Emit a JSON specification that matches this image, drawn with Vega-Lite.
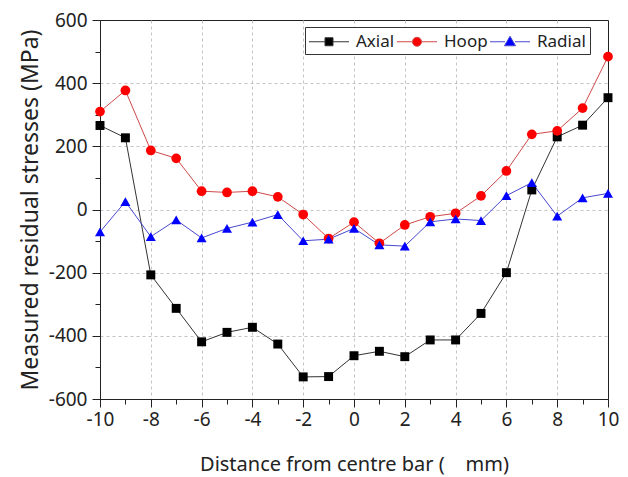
{
  "$schema": "https://vega.github.io/schema/vega-lite/v6.json",
  "width": 508,
  "height": 379,
  "autosize": {"type": "none"},
  "padding": {"left": 100, "top": 20, "right": 20, "bottom": 78},
  "background": "white",
  "config": {
    "view": {"stroke": "#222", "strokeWidth": 1},
    "font": "Noto Sans",
    "axis": {
      "labelFont": "Noto Sans", "titleFont": "Noto Sans",
      "labelColor": "#222", "titleColor": "#222",
      "domainColor": "#222", "tickColor": "#222",
      "titleFontWeight": "normal", "labelFlush": false
    },
    "legend": {
      "title": null, "orient": "none", "legendX": 205, "legendY": 7, "direction": "horizontal",
      "fillColor": "white", "strokeColor": "#333", "padding": 4, "columnPadding": 0,
      "labelFontSize": 17, "labelColor": "#222", "labelOffset": 26, "symbolSize": 400, "symbolStrokeWidth": 1
    }
  },
  "resolve": {"axis": {"x": "independent", "y": "independent"}},
  "data": {
    "values": [
      {"x": -10, "s": "Axial", "v": 266}, {"x": -9, "s": "Axial", "v": 227}, {"x": -8, "s": "Axial", "v": -207},
      {"x": -7, "s": "Axial", "v": -313}, {"x": -6, "s": "Axial", "v": -419}, {"x": -5, "s": "Axial", "v": -389},
      {"x": -4, "s": "Axial", "v": -373}, {"x": -3, "s": "Axial", "v": -426}, {"x": -2, "s": "Axial", "v": -530},
      {"x": -1, "s": "Axial", "v": -529}, {"x": 0, "s": "Axial", "v": -463}, {"x": 1, "s": "Axial", "v": -449},
      {"x": 2, "s": "Axial", "v": -466}, {"x": 3, "s": "Axial", "v": -413}, {"x": 4, "s": "Axial", "v": -413},
      {"x": 5, "s": "Axial", "v": -329}, {"x": 6, "s": "Axial", "v": -200}, {"x": 7, "s": "Axial", "v": 62},
      {"x": 8, "s": "Axial", "v": 230}, {"x": 9, "s": "Axial", "v": 267}, {"x": 10, "s": "Axial", "v": 354},
      {"x": -10, "s": "Hoop", "v": 310}, {"x": -9, "s": "Hoop", "v": 377}, {"x": -8, "s": "Hoop", "v": 187},
      {"x": -7, "s": "Hoop", "v": 162}, {"x": -6, "s": "Hoop", "v": 58}, {"x": -5, "s": "Hoop", "v": 54},
      {"x": -4, "s": "Hoop", "v": 58}, {"x": -3, "s": "Hoop", "v": 40}, {"x": -2, "s": "Hoop", "v": -16},
      {"x": -1, "s": "Hoop", "v": -92}, {"x": 0, "s": "Hoop", "v": -40}, {"x": 1, "s": "Hoop", "v": -107},
      {"x": 2, "s": "Hoop", "v": -49}, {"x": 3, "s": "Hoop", "v": -23}, {"x": 4, "s": "Hoop", "v": -12},
      {"x": 5, "s": "Hoop", "v": 43}, {"x": 6, "s": "Hoop", "v": 122}, {"x": 7, "s": "Hoop", "v": 238},
      {"x": 8, "s": "Hoop", "v": 249}, {"x": 9, "s": "Hoop", "v": 321}, {"x": 10, "s": "Hoop", "v": 484},
      {"x": -10, "s": "Radial", "v": -71}, {"x": -9, "s": "Radial", "v": 25}, {"x": -8, "s": "Radial", "v": -86},
      {"x": -7, "s": "Radial", "v": -33}, {"x": -6, "s": "Radial", "v": -90}, {"x": -5, "s": "Radial", "v": -60},
      {"x": -4, "s": "Radial", "v": -40}, {"x": -3, "s": "Radial", "v": -16}, {"x": -2, "s": "Radial", "v": -99},
      {"x": -1, "s": "Radial", "v": -94}, {"x": 0, "s": "Radial", "v": -60}, {"x": 1, "s": "Radial", "v": -112},
      {"x": 2, "s": "Radial", "v": -116}, {"x": 3, "s": "Radial", "v": -39}, {"x": 4, "s": "Radial", "v": -30},
      {"x": 5, "s": "Radial", "v": -35}, {"x": 6, "s": "Radial", "v": 44}, {"x": 7, "s": "Radial", "v": 85},
      {"x": 8, "s": "Radial", "v": -21}, {"x": 9, "s": "Radial", "v": 37}, {"x": 10, "s": "Radial", "v": 51}
    ]
  },
  "layer": [
    {
      "mark": {"type": "rule", "opacity": 0},
      "encoding": {
        "x": {"field": "x", "type": "quantitative", "scale": {"domain": [-10, 10], "nice": false, "zero": false},
          "axis": {"orient": "bottom", "values": [-8, -6, -4, -2, 0, 2, 4, 6, 8], "labels": false, "ticks": false, "domain": false, "title": null,
            "grid": true, "gridColor": "#c4c4c4", "gridDash": [3, 3]}},
        "y": {"field": "v", "type": "quantitative", "scale": {"domain": [-600, 600], "nice": false},
          "axis": {"orient": "left", "values": [-400, -200, 0, 200, 400], "labels": false, "ticks": false, "domain": false, "title": null,
            "grid": true, "gridColor": "#c4c4c4", "gridDash": [3, 3]}}
      }
    },
    {
      "mark": {"type": "rule", "opacity": 0},
      "encoding": {
        "x": {"field": "x", "type": "quantitative",
          "axis": {"orient": "bottom", "values": [-9, -7, -5, -3, -1, 1, 3, 5, 7, 9], "labels": false, "grid": false, "tickSize": 5, "domain": false, "title": null}},
        "y": {"field": "v", "type": "quantitative",
          "axis": {"orient": "left", "values": [-500, -300, -100, 100, 300, 500], "labels": false, "grid": false, "tickSize": 5, "domain": false, "title": null}}
      }
    },
    {
      "transform": [{"filter": "datum.s === 'Axial'"}],
      "mark": {"type": "line", "strokeWidth": 1, "color": "#333333"},
      "encoding": {
        "x": {"field": "x", "type": "quantitative", "axis": null},
        "y": {"field": "v", "type": "quantitative", "axis": null}
      }
    },
    {
      "transform": [{"filter": "datum.s === 'Hoop'"}],
      "mark": {"type": "line", "strokeWidth": 1, "color": "#d04848"},
      "encoding": {
        "x": {"field": "x", "type": "quantitative", "axis": null},
        "y": {"field": "v", "type": "quantitative", "axis": null}
      }
    },
    {
      "transform": [{"filter": "datum.s === 'Radial'"}],
      "mark": {"type": "line", "strokeWidth": 1, "color": "#4848d0"},
      "encoding": {
        "x": {"field": "x", "type": "quantitative", "axis": null},
        "y": {"field": "v", "type": "quantitative", "axis": null}
      }
    },
    {
      "transform": [{"filter": "datum.s === 'Axial'"}],
      "mark": {"type": "point", "filled": true, "opacity": 1, "size": 80, "shape": "square", "color": "#000000"},
      "encoding": {
        "x": {"field": "x", "type": "quantitative", "axis": null},
        "y": {"field": "v", "type": "quantitative", "axis": null}
      }
    },
    {
      "transform": [{"filter": "datum.s === 'Hoop'"}],
      "mark": {"type": "point", "filled": true, "opacity": 1, "size": 95, "shape": "circle", "color": "#ff0000"},
      "encoding": {
        "x": {"field": "x", "type": "quantitative", "axis": null},
        "y": {"field": "v", "type": "quantitative", "axis": null}
      }
    },
    {
      "transform": [{"filter": "datum.s === 'Radial'"}],
      "mark": {"type": "point", "filled": true, "opacity": 1, "size": 100, "shape": "triangle-up", "color": "#0000ff"},
      "encoding": {
        "x": {"field": "x", "type": "quantitative", "axis": null},
        "y": {"field": "v", "type": "quantitative", "axis": null}
      }
    },
    {
      "transform": [{"filter": "datum.x > 100"}],
      "mark": {"type": "point", "opacity": 1, "size": 400, "strokeWidth": 1},
      "encoding": {
        "x": {"field": "x", "type": "quantitative",
          "axis": {"orient": "bottom", "values": [-10, -8, -6, -4, -2, 0, 2, 4, 6, 8, 10], "tickSize": 8, "labelFontSize": 19, "labelPadding": 3,
            "grid": false, "labelExpr": "'' + datum.value",
            "title": "Distance from centre bar (\u00a0\u00a0\u00a0\u00a0mm)", "titleFontSize": 20, "titlePadding": 25}},
        "y": {"field": "v", "type": "quantitative",
          "axis": {"orient": "left", "values": [-600, -400, -200, 0, 200, 400, 600], "tickSize": 8, "labelFontSize": 19, "labelPadding": 5,
            "grid": false, "labelExpr": "'' + datum.value",
            "title": "Measured residual stresses (MPa)", "titleFontSize": 23, "titlePadding": 6}},
        "fill": {"field": "s", "type": "nominal",
          "scale": {"domain": ["Axial", "Hoop", "Radial"], "range": ["#000000", "#ff0000", "#0000ff"]}},
        "stroke": {"field": "s", "type": "nominal",
          "scale": {"domain": ["Axial", "Hoop", "Radial"], "range": ["#333333", "#d04848", "#4848d0"]}},
        "shape": {"field": "s", "type": "nominal",
          "scale": {"domain": ["Axial", "Hoop", "Radial"], "range": [
            "M-1.05,0H0.55M1.35,0H2.95M0.55,-0.4H1.35V0.4H0.55Z",
            "M-1.05,0H0.5M1.4,0H2.95M1.4,0A0.45,0.45,0,1,1,0.5,0A0.45,0.45,0,1,1,1.4,0Z",
            "M-1.05,0H0.45M1.45,0H2.95M0.95,-0.55L1.5,0.4L0.4,0.4Z"]}}
      }
    }
  ]
}
